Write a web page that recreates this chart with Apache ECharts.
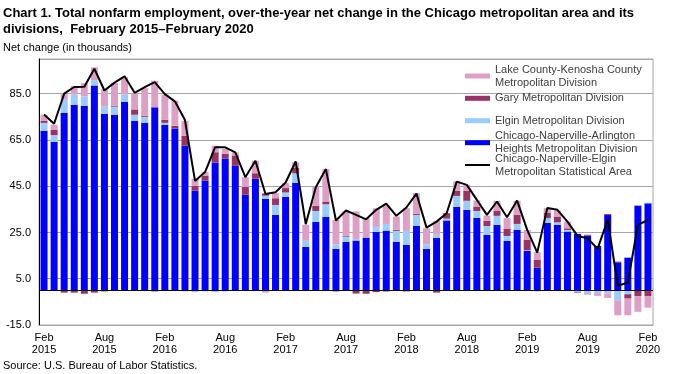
<!DOCTYPE html>
<html>
<head>
<meta charset="utf-8">
<script src="https://cdn.jsdelivr.net/npm/echarts@6/dist/echarts.min.js"></script>
<style>
html,body{margin:0;padding:0;background:#fff;}
#chart{width:675px;height:374px;}
</style>
</head>
<body>
<div id="chart"></div>
<script>
// ---- data ----
const monthNames = ['Jan','Feb','Mar','Apr','May','Jun','Jul','Aug','Sep','Oct','Nov','Dec'];
const categories = [];
for (let i = 0; i < 61; i++) {
  const m = (1 + i) % 12;
  const y = 2015 + Math.floor((1 + i) / 12);
  categories.push(monthNames[m] + ' ' + y);
}

const chicago = [69.0,64.2,76.8,80.2,79.8,88.5,76.3,75.9,81.5,73.3,
  72.4,79.1,71.6,70.0,62.5,43.1,47.5,55.3,57.0,53.8,
  41.3,48.2,39.5,32.6,40.4,46.5,18.8,29.6,31.7,17.9,
  20.9,21.5,22.8,25.3,25.8,20.9,19.6,27.8,17.9,22.7,
  30.2,36.1,34.8,31.3,24.0,28.3,21.4,26.1,17.0,9.8,
  29.2,28.3,25.4,24.4,23.7,19.2,32.6,12.1,14.1,36.6,37.6];
const elgin = [3.4,2.9,5.6,4.4,4.0,2.3,3.1,3.5,3.1,2.6,
  2.6,0,0.8,0,-0.5,-0.8,-0.5,-0.8,-0.5,0,
  0,0,1.4,4.3,1.9,4.1,2.6,4.7,5.5,2.0,
  2.3,0.7,0,2.1,2.9,4.8,6.1,4.8,2.0,1.3,
  0.8,4.7,3.9,3.0,3.8,3.9,2.1,2.6,0.3,-0.5,
  2.0,1.1,0.7,-0.7,-1.2,-1.2,-1.4,-4.3,-1.7,-0.3,0.3];
const gary = [0.8,2.2,-1.0,-1.0,-1.5,-1.0,-0.5,0.4,0,2.3,
  0.5,-0.5,1.3,1.1,4.3,2.1,2.1,4.4,2.0,4.5,
  3.4,2.4,1.0,2.9,1.9,2.5,0,2.2,1.2,-0.5,
  0.3,-1.4,-1.5,-0.8,-0.5,0.4,-0.5,0.4,0,-1.0,
  2.3,2.3,4.3,1.9,2.2,2.3,3.2,3.9,4.6,3.3,
  2.4,2.5,0.7,-0.3,0.3,0,0.4,0.3,-1.9,-2.2,-2.6];
const lake = [2.7,2.3,2.4,3.7,5.7,5.6,7.5,9.8,7.5,7.1,
  11.9,11.5,10.9,10.9,6.5,3.0,1.5,2.8,2.2,1.3,
  4.2,5.4,-1.0,2.2,2.1,2.3,6.9,8.2,14.0,10.5,
  10.6,11.9,8.4,8.1,8.0,5.8,9.8,9.0,6.9,6.0,
  0,4.0,2.6,2.6,2.3,4.2,4.5,6.1,4.2,3.4,
  1.9,2.6,2.9,0,-0.7,-1.2,-1.9,-6.5,-7.2,-6.8,-4.9];
const msa = [76,72,85,87.9,88,95.8,86.4,89.8,92.5,85.4,
  87.8,90,84.8,81.7,73.6,47.3,51.1,61.9,61.8,59.6,
  48.9,56,41.6,42.4,46.6,55.7,28.6,44.6,52.4,30.2,
  34.5,32.6,30.7,34.8,37.5,32.2,35.8,41.8,27.1,29.7,
  33.3,47.0,45.6,39.1,32.6,38.4,31.6,38.8,26.1,16.3,
  35.6,34.8,29.7,23.5,22.5,17.9,30.6,2.0,3.4,28.3,30.4];
const yTicks = [-15, 5, 25, 45, 65, 85];

const names = {
  lake: 'Lake County-Kenosha County\nMetropolitan Division',
  gary: 'Gary Metropolitan Division',
  elgin: 'Elgin Metropolitan Division',
  chicago: 'Chicago-Naperville-Arlington\nHeights Metropolitan Division',
  msa: 'Chicago-Naperville-Elgin\nMetropolitan Statistical Area'
};
const colors = {lake:'#de9fc6', gary:'#993366', elgin:'#99ccff', chicago:'#0000ff', msa:'#000000'};

const FONT = 'Arial, "Liberation Sans", sans-serif';
const chart = echarts.init(document.getElementById('chart'), null, {renderer:'canvas'});

function legendItem(key, top, twoLine, isLine) {
  return {
    show: true, left: 465, top: top, padding: 0, orient: 'vertical',
    selectedMode: false,
    itemWidth: 25, itemHeight: isLine ? 2 : 5, icon: 'rect',
    data: [{name: names[key], itemStyle: {color: colors[key]}}],
    textStyle: {fontFamily: FONT, fontSize: 11, color: '#404040', lineHeight: 13,
      padding: twoLine ? [13, 0, 0, 0] : 0}
  };
}

function barSeries(key, data, extra) {
  return Object.assign({
    name: names[key], type: 'bar', stack: 'total', data: data,
    barWidth: 7, itemStyle: {color: colors[key]}, emphasis: {disabled: true}
  }, extra || {});
}

const option = {
  animation: false,
  backgroundColor: '#fff',
  title: [{
    text: 'Chart 1. Total nonfarm employment, over-the-year net change in the Chicago metropolitan area and its\ndivisions,  February 2015\u2013February 2020',
    left: 3, top: 5, padding: 0,
    textStyle: {fontFamily: FONT, fontSize: 13, fontWeight: 'bold', color: '#000', lineHeight: 16}
  }, {
    text: 'Net change (in thousands)',
    left: 3, top: 42, padding: 0,
    textStyle: {fontFamily: FONT, fontSize: 11, fontWeight: 'normal', color: '#000'}
  }, {
    text: 'Source: U.S. Bureau of Labor Statistics.',
    left: 3, top: 360, padding: 0,
    textStyle: {fontFamily: FONT, fontSize: 11, fontWeight: 'normal', color: '#000'}
  }],
  legend: [
    legendItem('lake', 56.5, true, false),
    legendItem('gary', 91.8, false, false),
    legendItem('elgin', 114.2, false, false),
    legendItem('chicago', 123.2, true, false),
    legendItem('msa', 145.5, true, true)
  ],
  grid: {left: 39, right: 22, top: 59, bottom: 49, show: true, borderColor: '#a6a6a6', borderWidth: 1, backgroundColor: 'transparent'},
  xAxis: {
    type: 'category', data: categories,
    axisLine: {show: true, onZero: false, lineStyle: {color: '#a6a6a6'}},
    axisTick: {show: false},
    axisLabel: {
      interval: 5, margin: 7, fontFamily: FONT, fontSize: 11, color: '#000', lineHeight: 12,
      formatter: v => v.replace(' ', '\n')
    },
    splitLine: {show: false}
  },
  yAxis: {
    type: 'value', min: -15, max: 100, interval: 20,
    axisLine: {show: true, lineStyle: {color: '#000'}},
    axisTick: {show: false},
    axisLabel: {
      margin: 8, fontFamily: FONT, fontSize: 11, color: '#000',
      formatter: v => yTicks.indexOf(v) >= 0 ? v.toFixed(1) : ''
    },
    splitLine: {show: true, lineStyle: {color: '#a6a6a6', width: 1}}
  },
  series: [
    barSeries('chicago', chicago, {
      markLine: {silent: true, symbol: 'none', label: {show: false},
        lineStyle: {color: '#000', width: 1, type: 'solid'}, data: [{yAxis: 0}]}
    }),
    barSeries('elgin', elgin),
    barSeries('gary', gary),
    barSeries('lake', lake),
    {
      name: names.msa, type: 'line', data: msa, symbol: 'none', z: 5,
      lineStyle: {color: '#000', width: 2}, itemStyle: {color: '#000'},
      emphasis: {disabled: true}
    }
  ]
};
chart.setOption(option);
</script>
</body>
</html>
